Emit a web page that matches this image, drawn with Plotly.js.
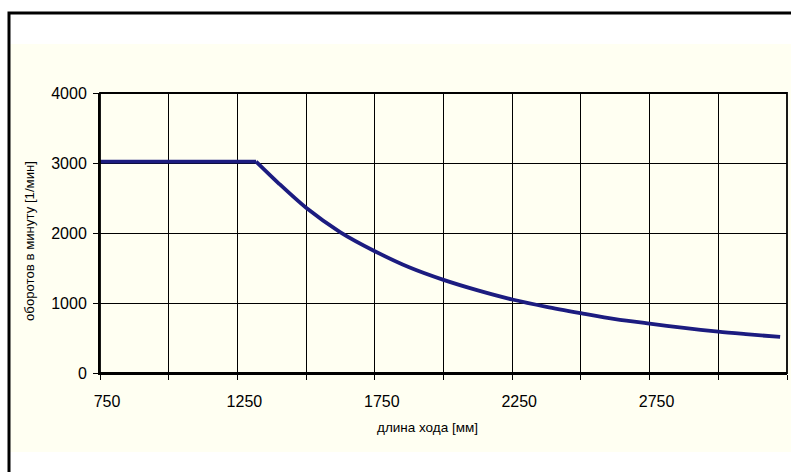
<!DOCTYPE html>
<html>
<head>
<meta charset="utf-8">
<script src="https://cdn.plot.ly/plotly-3.0.1.min.js"></script>
<style>html,body{margin:0;padding:0;background:#fff;}#chart{width:791px;height:472px;}</style>
</head>
<body>
<div id="chart"></div>
<script>
// Stroke length [mm] — flat part (constant speed)
const flatLength = [750, 1000, 1250, 1318];
const flatRpm = [3020, 3020, 3020, 3020];
// Stroke length [mm] — decreasing part
const curveLength = [1318, 1400, 1500, 1625, 1750, 1875, 2000, 2125, 2250, 2375, 2500, 2625, 2750, 2875, 3000, 3100, 3225];
const curveRpm = [3020, 2710, 2360, 2010, 1740, 1510, 1330, 1180, 1050, 945, 855, 770, 705, 645, 590, 555, 515];
const xTickVals = [750, 1250, 1750, 2250, 2750];
const xTickText = ['750', '1250', '1750', '2250', '2750'];
const yTickVals = [0, 1000, 2000, 3000, 4000];
const xTitle = 'длина хода [мм]';
const yTitle = 'оборотов в минуту [1/мин]';

const W = 791, H = 472;
const L = 100, R = 787, T = 93, B = 373;
const pw = R - L, ph = B - T;
const px = v => (v - L) / pw;
const py = v => (B - v) / ph;
const cream = '#FFFFF2';
const lineColor = '#1C1C80';
const font = 'Liberation Sans, Arial, Helvetica, sans-serif';

const traces = [
  {x: flatLength, y: flatRpm, type: 'scatter', mode: 'lines',
   line: {color: lineColor, width: 3.8}, hoverinfo: 'skip'},
  {x: curveLength, y: curveRpm, type: 'scatter', mode: 'lines',
   line: {color: lineColor, width: 3.8, shape: 'spline', smoothing: 0.8}, hoverinfo: 'skip'}
];

const layout = {
  width: W, height: H,
  margin: {l: L, r: W - R, t: T, b: H - B, pad: 0},
  paper_bgcolor: '#ffffff',
  plot_bgcolor: cream,
  showlegend: false,
  font: {family: font, color: '#000'},
  xaxis: {
    range: [750, 3250], tickmode: 'array', tickvals: xTickVals, ticktext: xTickText,
    ticks: 'outside', ticklen: 5, tickwidth: 1, tickcolor: '#000',
    ticklabelshift: 7, ticklabelstandoff: 8,
    showgrid: true, gridcolor: '#000', gridwidth: 1,
    showline: true, linecolor: '#000', linewidth: 2,
    zeroline: false, tickfont: {size: 16, family: font},
    minor: {tick0: 750, dtick: 250, ticks: 'outside', ticklen: 5, tickcolor: '#000', showgrid: true, gridcolor: '#000', gridwidth: 1},
    fixedrange: true
  },
  yaxis: {
    range: [0, 4000], tickmode: 'array', tickvals: yTickVals,
    ticks: 'outside', ticklen: 5, tickwidth: 1, tickcolor: '#000',
    ticklabelstandoff: 3,
    showgrid: true, gridcolor: '#000', gridwidth: 1,
    showline: true, linecolor: '#000', linewidth: 2,
    zeroline: false, tickfont: {size: 16, family: font},
    fixedrange: true
  },
  shapes: [
    {type: 'rect', xref: 'paper', yref: 'paper', x0: px(9), x1: px(800), y0: py(452), y1: py(44),
     fillcolor: cream, line: {width: 0}, layer: 'below'},
    {type: 'rect', xref: 'paper', yref: 'paper', x0: px(9), x1: px(810), y0: py(490), y1: py(13),
     fillcolor: 'rgba(0,0,0,0)', line: {color: '#000', width: 3}, layer: 'above'},
    {type: 'rect', xref: 'paper', yref: 'paper', x0: 0, x1: 1, y0: 0, y1: 1,
     fillcolor: 'rgba(0,0,0,0)', line: {color: '#000', width: 1.8}, layer: 'above'}
  ],
  annotations: [
    {text: xTitle, xref: 'paper', yref: 'paper', x: px(427), y: py(427), showarrow: false,
     xanchor: 'center', yanchor: 'middle', font: {size: 13.5, family: font, color: '#000'}},
    {text: yTitle, xref: 'paper', yref: 'paper', x: px(29), y: py(241), showarrow: false, textangle: -90,
     xanchor: 'center', yanchor: 'middle', font: {size: 13.2, family: font, color: '#000'}}
  ]
};

Plotly.newPlot('chart', traces, layout, {displayModeBar: false, staticPlot: true});
</script>
</body>
</html>
